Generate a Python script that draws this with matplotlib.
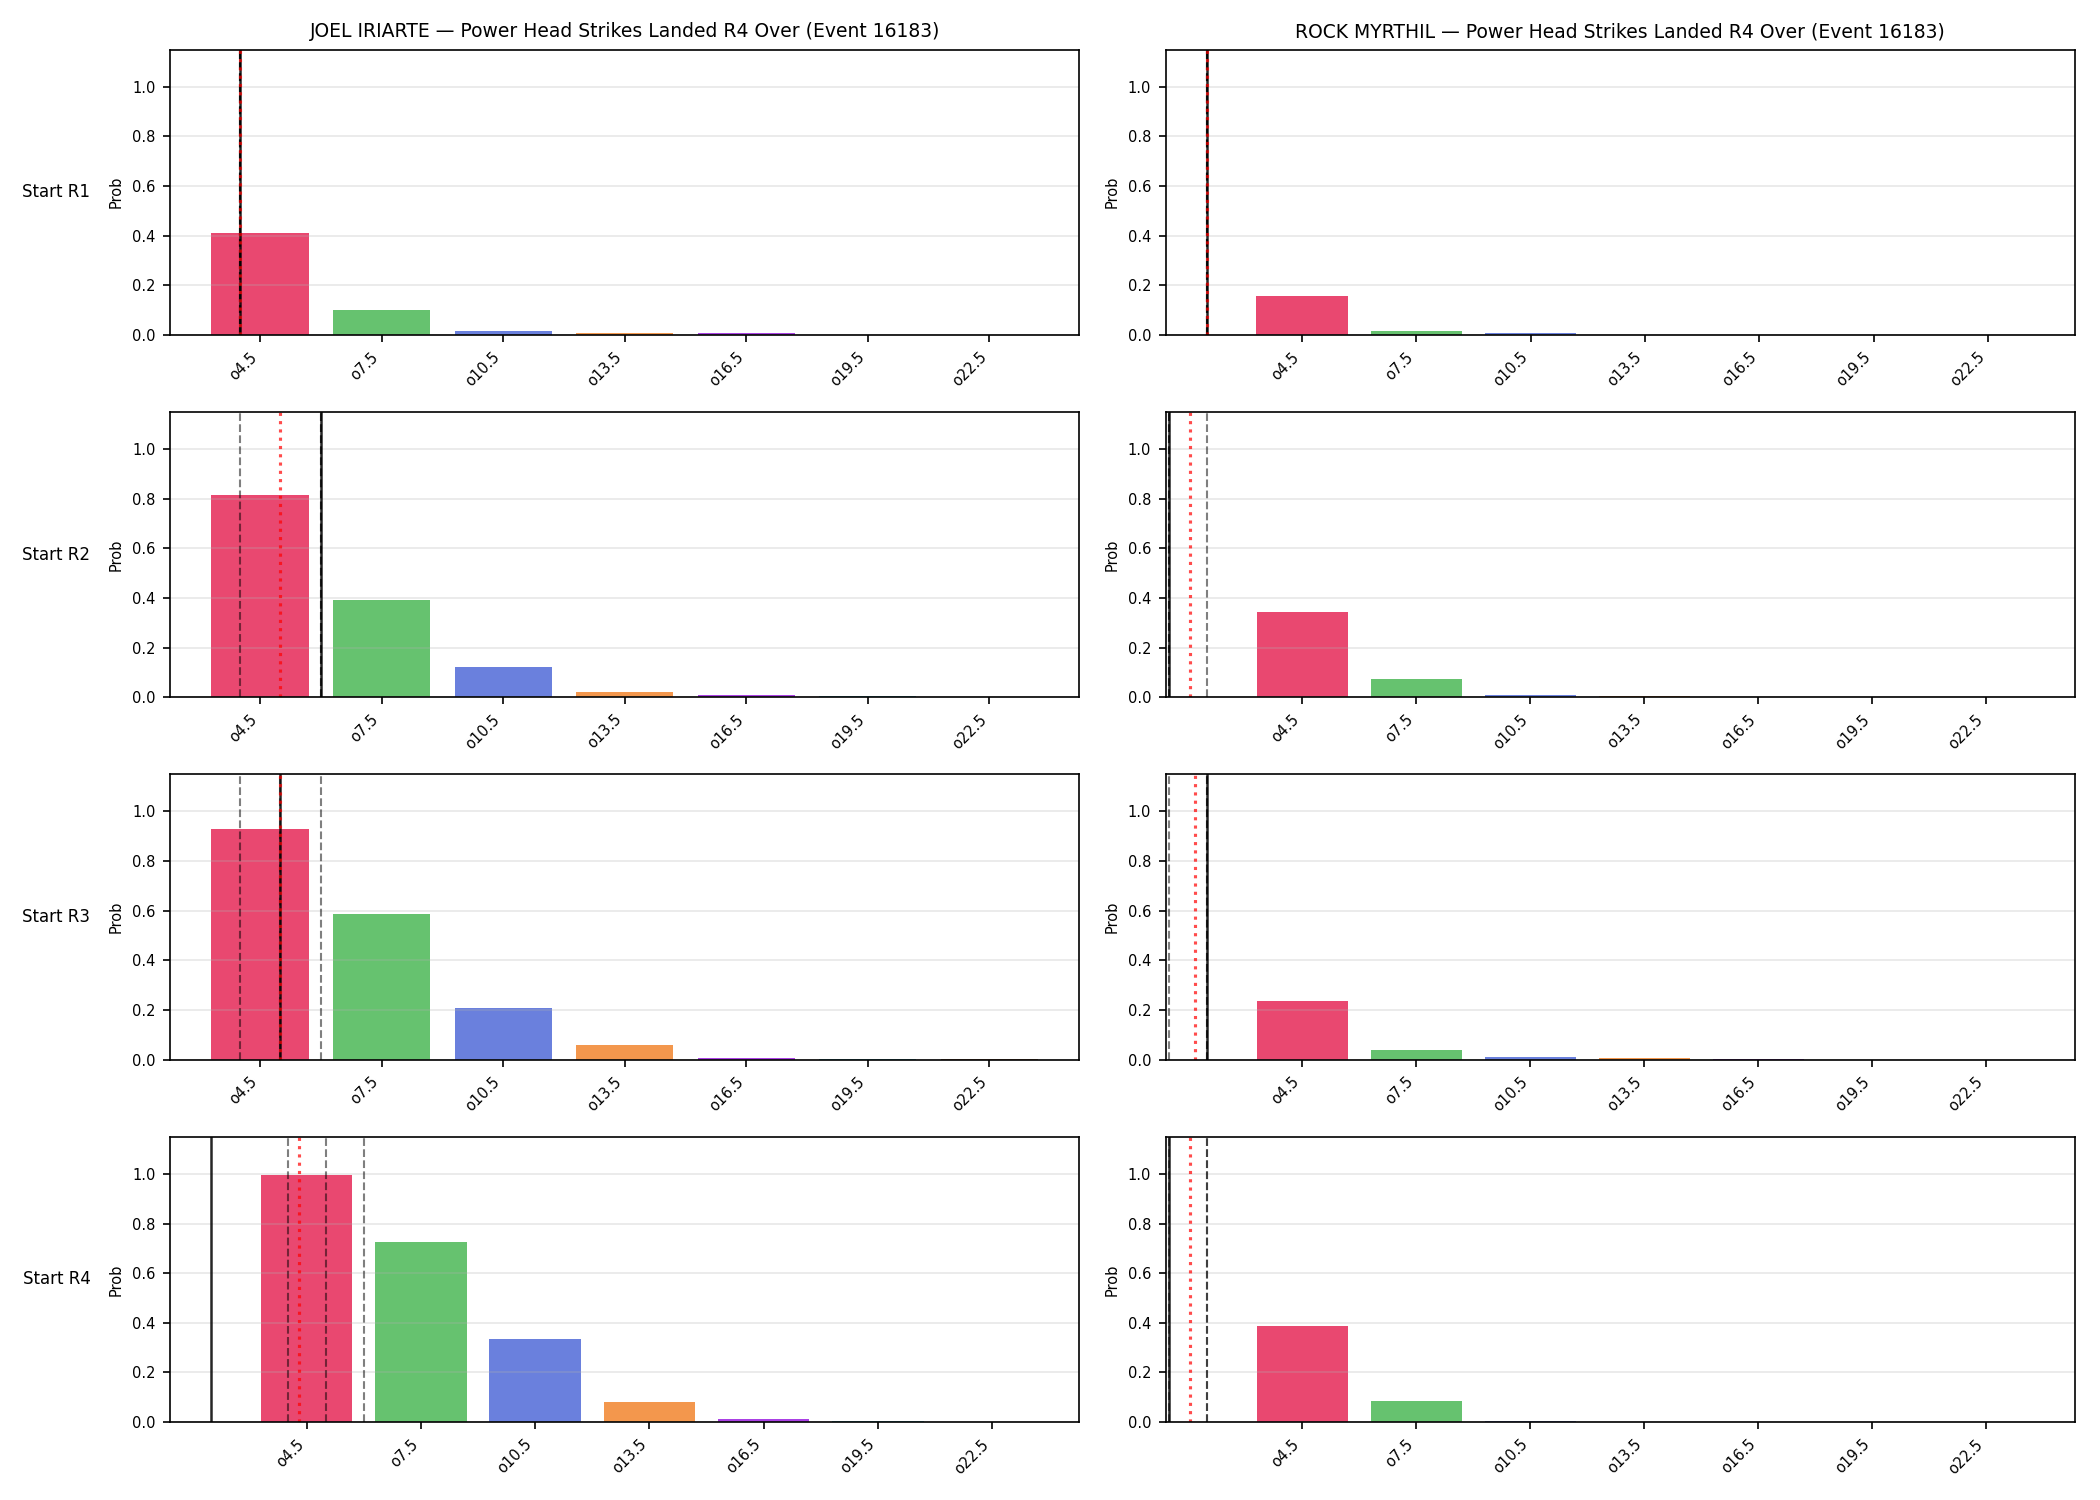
import numpy as np
import matplotlib
matplotlib.use("Agg")
import matplotlib.pyplot as plt

FIGHTERS = ["JOEL IRIARTE", "ROCK MYRTHIL"]
EVENT_ID = 16183
STAT = "Power Head Strikes Landed R4 Over"
START_ROUNDS = ["Start R1", "Start R2", "Start R3", "Start R4"]
LINES = [4.5, 7.5, 10.5, 13.5, 16.5, 19.5, 22.5]
LINE_LABELS = [f"o{l}" for l in LINES]
BAR_COLORS = ["#E62857", "#4BB856", "#506AD7", "#F2852E", "#9B1FE0", "#17AFC0", "#8B4513"]

# P(over line), one row per start round
iriarte_probs = [
    [0.41, 0.10, 0.015, 0.006, 0.006, 0.001, 0.0005],
    [0.815, 0.39, 0.12, 0.022, 0.009, 0.004, 0.001],
    [0.93, 0.585, 0.21, 0.06, 0.008, 0.004, 0.001],
    [0.995, 0.725, 0.335, 0.08, 0.012, 0.005, 0.001],
]
myrthil_probs = [
    [0.155, 0.016, 0.006, 0.001, 0.0, 0.0, 0.0],
    [0.345, 0.075, 0.01, 0.006, 0.001, 0.0, 0.0],
    [0.235, 0.04, 0.012, 0.005, 0.001, 0.0, 0.0],
    [0.385, 0.085, 0.006, 0.001, 0.0, 0.0, 0.0],
]

# strike counts per start round: actual, mean, quartiles
iriarte_actual = [4, 6, 5, 2]
iriarte_mean = [4, 5, 5, 4.3]
iriarte_q25 = [4, 4, 4, 4]
iriarte_q50 = [4, 6, 5, 5]
iriarte_q75 = [4, 6, 6, 6]

myrthil_actual = [2, 1, 2, 1]
myrthil_mean = [2, 1.53, 1.68, 1.53]
myrthil_q25 = [2, 1, 1, 1]
myrthil_q50 = [2, 1, 2, 2]
myrthil_q75 = [2, 2, 2, 2]


def to_x(v):
    # strike count -> position on the categorical line axis
    return (v - LINES[0]) / (LINES[1] - LINES[0])


def draw_panel(ax, probs, actual, mean, qs):
    x = np.arange(len(LINES))
    ax.bar(x, probs, width=0.8, color=BAR_COLORS, alpha=0.85)
    for q in qs:
        ax.axvline(to_x(q), color="black", linestyle="--", linewidth=1.0, alpha=0.5)
    ax.axvline(to_x(actual), color="black", linestyle="-", linewidth=1.2, alpha=0.85)
    ax.axvline(to_x(mean), color="red", linestyle=":", linewidth=1.5, alpha=0.7)
    lo, hi = ax.get_xlim()
    ax.set_xlim(max(lo, -1.2), hi)
    ax.set_ylim(0, 1.15)
    ax.set_xticks(x)
    ax.set_xticklabels(LINE_LABELS, rotation=45, ha="right", fontsize=7)
    ax.tick_params(axis="y", labelsize=7)
    ax.set_ylabel("Prob", fontsize=7)
    ax.grid(axis="y", alpha=0.3)


def main():
    fig, axes = plt.subplots(4, 2, figsize=(14, 10), dpi=150)
    fig.subplots_adjust(left=0.081, right=0.988, top=0.967, bottom=0.052, wspace=0.095, hspace=0.27)

    data = [
        (iriarte_probs, iriarte_actual, iriarte_mean, iriarte_q25, iriarte_q50, iriarte_q75),
        (myrthil_probs, myrthil_actual, myrthil_mean, myrthil_q25, myrthil_q50, myrthil_q75),
    ]
    for col, (probs, actual, mean, q25, q50, q75) in enumerate(data):
        for row in range(len(START_ROUNDS)):
            ax = axes[row, col]
            draw_panel(ax, probs[row], actual[row], mean[row], [q25[row], q50[row], q75[row]])
            if row == 0:
                ax.set_title(f"{FIGHTERS[col]} \u2014 {STAT} (Event {EVENT_ID})", fontsize=9)
            if col == 0:
                ax.text(-0.125, 0.5, START_ROUNDS[row], transform=ax.transAxes,
                        ha="center", va="center", fontsize=8)

    fig.savefig("out.png", dpi=150)


if __name__ == "__main__":
    main()
